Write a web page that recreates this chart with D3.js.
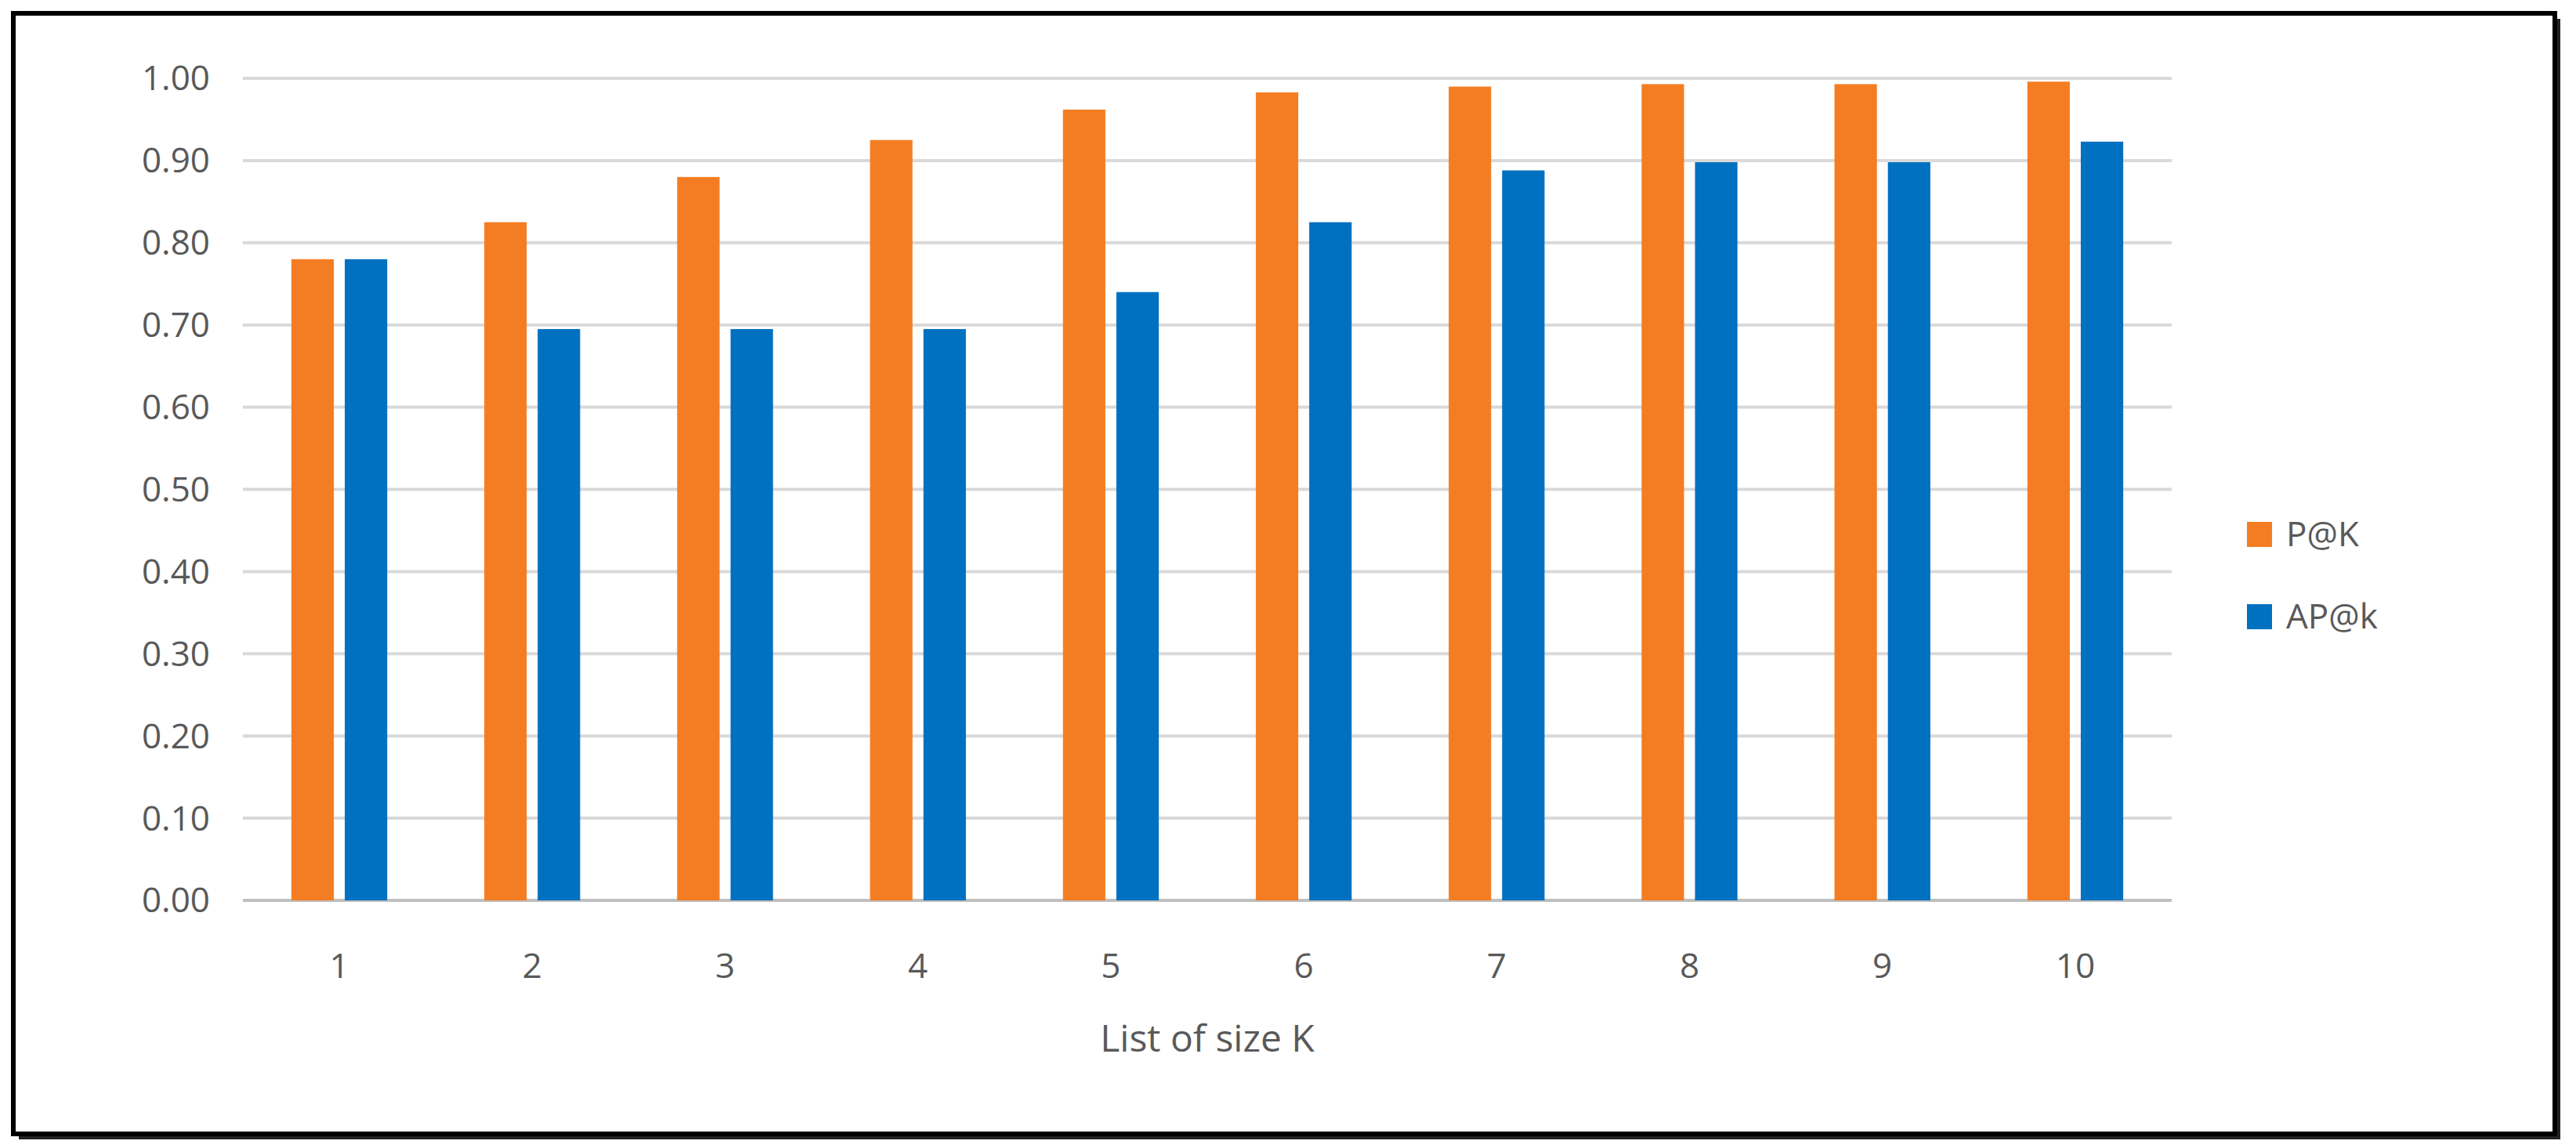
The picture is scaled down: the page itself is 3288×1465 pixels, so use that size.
<!DOCTYPE html>
<html>
<head>
<meta charset="utf-8">
<script src="https://cdn.jsdelivr.net/npm/d3@7"></script>
<style>
  body { margin: 0; background: #fff; }
  text { font-family: "Open Sans", "Noto Sans", sans-serif; fill: #595959; }
</style>
</head>
<body>
<div id="chart"></div>
<script>
const categories = ["1", "2", "3", "4", "5", "6", "7", "8", "9", "10"];
const pAtK = [0.78, 0.825, 0.88, 0.925, 0.962, 0.983, 0.99, 0.993, 0.993, 0.996];
const apAtK = [0.78, 0.695, 0.695, 0.695, 0.74, 0.825, 0.888, 0.898, 0.898, 0.923];
const yTicks = [0, 0.1, 0.2, 0.3, 0.4, 0.5, 0.6, 0.7, 0.8, 0.9, 1.0];
const seriesNames = ["P@K", "AP@k"];
const colors = ["#f47d23", "#0070c0"];

const W = 3288, H = 1465;
const plotLeft = 310, plotRight = 2772, plotTop = 100, plotBottom = 1149;

const svg = d3.select("#chart").append("svg")
    .attr("width", W).attr("height", H);

// frame with shadow
svg.append("rect").attr("x", 24).attr("y", 24).attr("width", 3244).attr("height", 1430).attr("fill", "#222");
svg.append("rect").attr("x", 17).attr("y", 17).attr("width", 3244).attr("height", 1430)
    .attr("fill", "#fff").attr("stroke", "#000").attr("stroke-width", 6);

const x = d3.scaleBand().domain(categories).range([plotLeft, plotRight]);
const y = d3.scaleLinear().domain([0, 1]).range([plotBottom, plotTop]);

// gridlines
svg.append("g").selectAll("line").data(yTicks).enter().append("line")
    .attr("x1", plotLeft).attr("x2", plotRight)
    .attr("y1", d => y(d)).attr("y2", d => y(d))
    .attr("stroke", d => d === 0 ? "#bfbfbf" : "#d9d9d9").attr("stroke-width", 4);

// y labels
svg.append("g").selectAll("text").data(yTicks).enter().append("text")
    .attr("x", 268).attr("y", d => y(d)).attr("dy", "0.35em")
    .attr("text-anchor", "end").attr("font-size", 44)
    .text(d => d.toFixed(2));

const barW = x.bandwidth() * 0.22;
const gap = 14;
[pAtK, apAtK].forEach((vals, s) => {
    svg.append("g").selectAll("rect").data(vals).enter().append("rect")
        .attr("x", (d, i) => x(categories[i]) + x.bandwidth() / 2 + (s === 0 ? -gap / 2 - barW : gap / 2))
        .attr("width", barW)
        .attr("y", d => y(d))
        .attr("height", d => plotBottom - y(d))
        .attr("fill", colors[s]);
});

// x labels
svg.append("g").selectAll("text").data(categories).enter().append("text")
    .attr("x", d => x(d) + x.bandwidth() / 2).attr("y", 1248)
    .attr("text-anchor", "middle").attr("font-size", 44)
    .text(d => d);

svg.append("text").attr("x", (plotLeft + plotRight) / 2).attr("y", 1342)
    .attr("text-anchor", "middle").attr("font-size", 48)
    .text("List of size K");

// legend
seriesNames.forEach((n, i) => {
    const ly = 682 + i * 105;
    svg.append("rect").attr("x", 2868).attr("y", ly - 16).attr("width", 32).attr("height", 32).attr("fill", colors[i]);
    svg.append("text").attr("x", 2918).attr("y", ly).attr("dy", "0.35em")
        .attr("font-size", 44).text(n);
});
</script>
</body>
</html>
